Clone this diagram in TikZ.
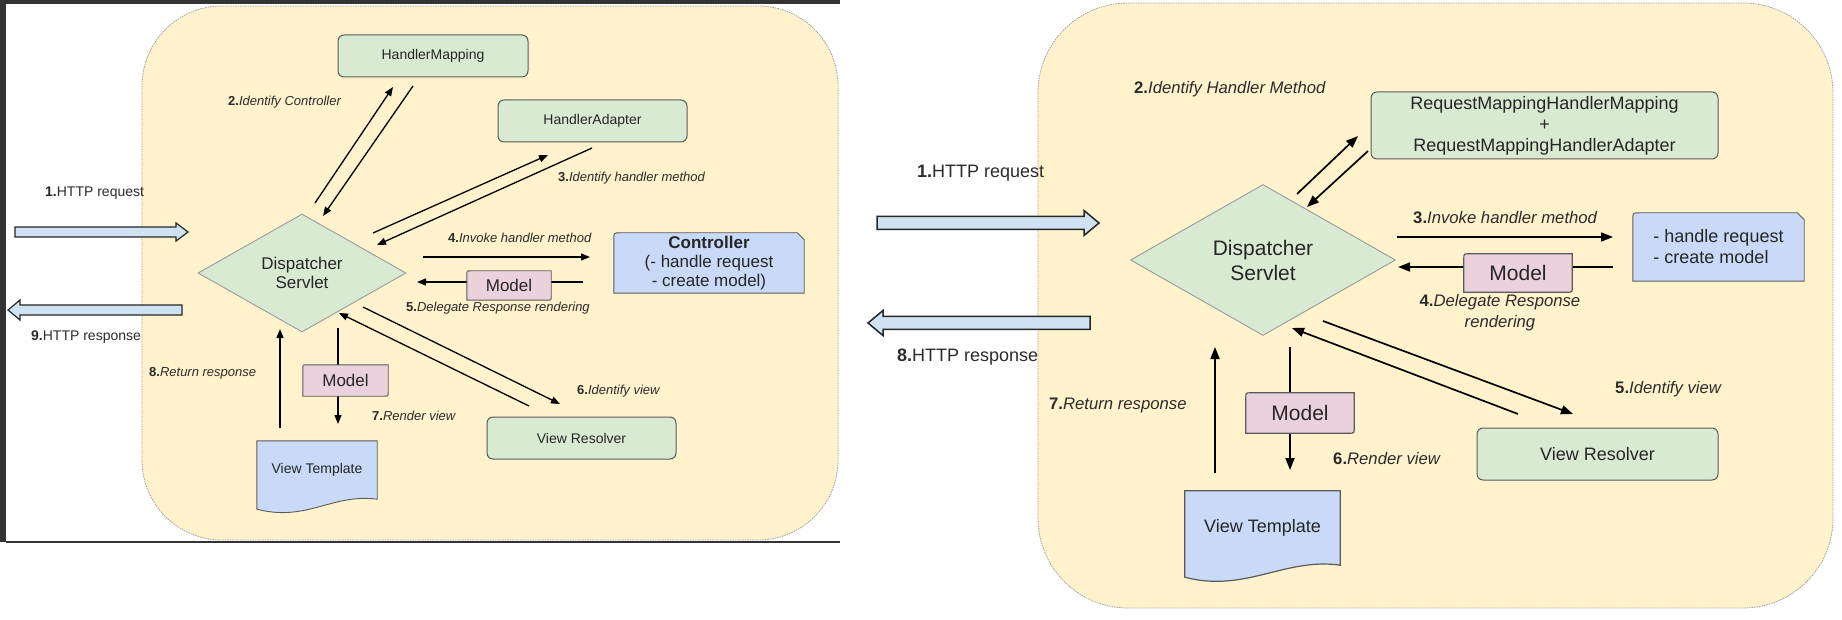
\documentclass[tikz,border=0pt]{standalone}
\usepackage{fontspec}
\setmainfont{Liberation Sans}
\usetikzlibrary{shapes.geometric,arrows.meta,calc}
\pgfdeclarelayer{bg}
\pgfdeclarelayer{lines}
\pgfdeclarelayer{shp}
\pgfsetlayers{bg,lines,shp,main}
\definecolor{panelY}{HTML}{FFF2CC}
\definecolor{panelB}{HTML}{A0A0A0}
\definecolor{grn}{HTML}{D9EAD3}
\definecolor{boxB}{HTML}{5A5A5A}
\definecolor{diaB}{HTML}{9A9A9A}
\definecolor{blu}{HTML}{C9DAF8}
\definecolor{arrF}{HTML}{CFE2F3}
\definecolor{pnk}{HTML}{EAD1DC}
\definecolor{txt}{HTML}{262626}
\definecolor{lbl}{HTML}{2B2B2B}
\definecolor{frameC}{HTML}{333333}
\newcommand\fsLab{\fontsize{13}{15}\selectfont}
\newcommand\fsHttp{\fontsize{14}{16}\selectfont}
\newcommand\fsBox{\fontsize{14}{16}\selectfont}
\newcommand\fsBig{\fontsize{17}{19}\selectfont}
\newcommand\fsLabR{\fontsize{16.7}{21}\selectfont}
\newcommand\fsBoxR{\fontsize{18}{21}\selectfont}
\newcommand\fsBigR{\fontsize{21}{25}\selectfont}
\newcommand\steplab[2]{\textbf{#1}\textit{#2}}
\tikzset{
  every node/.style={text=txt, inner sep=0pt},
  panel/.style={fill=panelY, draw=panelB, dash pattern=on 1.5pt off 1pt, line width=0.8pt},
  greenbox/.style={draw=boxB, fill=grn, rounded corners=6pt, line width=1pt},
  diam/.style={diamond, draw=diaB, fill=grn, line width=0.9pt, align=center},
  cardshape/.style={draw=boxB, fill=blu, line width=0.9pt},
  modelshape/.style={draw=boxB, fill=pnk, line width=0.9pt},
  docshape/.style={draw=boxB, fill=blu, line width=0.9pt},
  blockarr/.style={draw=black!85, fill=arrF, line width=1.2pt, line join=miter},
  connL/.style={draw=black, line width=1.3pt, -{Triangle[length=9pt,width=7pt]}},
  connR/.style={draw=black, line width=1.7pt, -{Triangle[length=12pt,width=9pt]}},
  lab/.style={anchor=west, text=lbl},
}
\begin{document}
\begin{tikzpicture}[x=1pt,y=-1pt]
\useasboundingbox (0,0) rectangle (1842,620);
\begin{pgfonlayer}{bg}
  \fill[white] (0,0) rectangle (1842,620);
  \fill[frameC] (0,0) rectangle (840,4);
  \fill[frameC] (0,0) rectangle (6,542);
  \draw[frameC, line width=1.2pt] (6,542) -- (840,542);
  \draw[panel, rounded corners=80pt] (142,6) rectangle (838,540);
  \draw[panel, rounded corners=90pt] (1038,3) rectangle (1833,608);
\end{pgfonlayer}

% ---------------- LEFT PANEL ----------------
\node[greenbox, font=\fsBox, minimum width=190pt, minimum height=42pt] (hm) at (433,56) {HandlerMapping};
\node[greenbox, font=\fsBox, minimum width=189pt, minimum height=42pt] (ha) at (592.5,121) {HandlerAdapter};
\node[diam, font=\fsBig, minimum width=208pt, minimum height=118pt, shape aspect=1.76] (ds) at (302,273) {Dispatcher\\Servlet};
\node[font=\fsBig, align=center, minimum width=190pt, minimum height=60pt] (ctrl) at (709,263) {\textbf{Controller}\\(- handle request\\- create model)};
\node[font=\fsBig, minimum width=84pt, minimum height=29pt] (m1) at (509,285.5) {Model};
\node[greenbox, font=\fsBox, minimum width=189pt, minimum height=42pt] (vr) at (581.5,438) {View Resolver};
\node[font=\fsBig, minimum width=85pt, minimum height=31pt] (m2) at (345.5,380.5) {Model};
\node[font=\fsBox, minimum width=120pt, minimum height=58pt] (vt) at (317,470) {View Template};

\node[lab, font=\fsHttp] (l1) at (45,193) {\textbf{1.}HTTP request};
\node[lab, font=\fsHttp] (l9) at (31,337) {\textbf{9.}HTTP response};
\node[lab, font=\fsLab] (l2) at (228,102) {\steplab{2.}{Identify Controller}};
\node[lab, font=\fsLab] (l3) at (558,178) {\steplab{3.}{Identify handler method}};
\node[lab, font=\fsLab] (l4) at (448,238) {\steplab{4.}{Invoke handler method}};
\node[lab, font=\fsLab] (l5) at (406,308) {\steplab{5.}{Delegate Response rendering}};
\node[lab, font=\fsLab] (l6) at (577,391) {\steplab{6.}{Identify view}};
\node[lab, font=\fsLab] (l7) at (372,416) {\steplab{7.}{Render view}};
\node[lab, font=\fsLab] (l8) at (149,373) {\steplab{8.}{Return response}};

\coordinate (a2s) at (315,203); \coordinate (a2e) at (393,87);
\coordinate (b2s) at (413,86);  \coordinate (b2e) at (323,216);
\coordinate (a3s) at (373,233); \coordinate (a3e) at (548,155);
\coordinate (b3s) at (592,148); \coordinate (b3e) at (377,245);
\coordinate (a4s) at (423,257); \coordinate (a4e) at (590,257);
\coordinate (a5s) at (583,282); \coordinate (a5e) at (417,282);
\coordinate (a6s) at (363,307); \coordinate (a6e) at (560,404);
\coordinate (b6s) at (529,406); \coordinate (b6e) at (339,313);
\coordinate (a8s) at (280,428); \coordinate (a8e) at (280,329);
\coordinate (a7s) at (338,328); \coordinate (a7e) at (338,424);
\coordinate (q1s) at (15,232);  \coordinate (q1e) at (188,232);
\coordinate (q9s) at (182,310); \coordinate (q9e) at (8,310);

% ---------------- RIGHT PANEL ----------------
\node[greenbox, font=\fsBoxR, align=center, minimum width=347pt, minimum height=67pt] (rm) at (1544.5,125.5) {RequestMappingHandlerMapping\\+\\RequestMappingHandlerAdapter};
\node[diam, font=\fsBigR, minimum width=265pt, minimum height=151pt, shape aspect=1.75] (ds2) at (1263,260) {Dispatcher\\Servlet};
\node[font=\fsBoxR, align=left, minimum width=171pt, minimum height=68pt] (ctrl2) at (1718.5,247) {- handle request\\- create model};
\node[font=\fsBigR, minimum width=108pt, minimum height=38pt] (m3) at (1518,273) {Model};
\node[greenbox, font=\fsBoxR, minimum width=241pt, minimum height=52pt] (vr2) at (1597.5,454) {View Resolver};
\node[font=\fsBigR, minimum width=108pt, minimum height=40pt] (m4) at (1300,413) {Model};
\node[font=\fsBoxR, minimum width=155pt, minimum height=74pt] (vt2) at (1262.5,528) {View Template};

\node[lab, font=\fsBoxR] (r1) at (917,173) {\textbf{1.}HTTP request};
\node[lab, font=\fsBoxR] (r8) at (897,357) {\textbf{8.}HTTP response};
\node[lab, font=\fsLabR] (r2) at (1134,89) {\steplab{2.}{Identify Handler Method}};
\node[lab, font=\fsLabR] (r3) at (1413,218) {\steplab{3.}{Invoke handler method}};
\node[font=\fsLabR, align=center, text=lbl] (r4) at (1500,312.5) {\steplab{4.}{Delegate Response}\\\textit{rendering}};
\node[lab, font=\fsLabR] (r5) at (1615,389) {\steplab{5.}{Identify view}};
\node[lab, font=\fsLabR] (r6) at (1333,459) {\steplab{6.}{Render view}};
\node[lab, font=\fsLabR] (r7) at (1049,405) {\steplab{7.}{Return response}};

\coordinate (c2s) at (1297,194); \coordinate (c2e) at (1358,136);
\coordinate (d2s) at (1368,151); \coordinate (d2e) at (1307,207);
\coordinate (c3s) at (1397,237); \coordinate (c3e) at (1613,237);
\coordinate (c4s) at (1613,267); \coordinate (c4e) at (1398,267);
\coordinate (c5s) at (1323,321); \coordinate (c5e) at (1573,414);
\coordinate (d5s) at (1518,414); \coordinate (d5e) at (1292,328);
\coordinate (c7s) at (1215,473); \coordinate (c7e) at (1215,347);
\coordinate (c6s) at (1290,347); \coordinate (c6e) at (1290,470);
\coordinate (p1s) at (877,223);  \coordinate (p1e) at (1099,223);
\coordinate (p8s) at (1090,323); \coordinate (p8e) at (868,323);

% ---------------- connectors ----------------
\begin{pgfonlayer}{lines}
  \draw[connL] (a2s) -- (a2e);
  \draw[connL] (b2s) -- (b2e);
  \draw[connL] (a3s) -- (a3e);
  \draw[connL] (b3s) -- (b3e);
  \draw[connL] (a4s) -- (a4e);
  \draw[connL] (a5s) -- (a5e);
  \draw[connL] (a6s) -- (a6e);
  \draw[connL] (b6s) -- (b6e);
  \draw[connL] (a8s) -- (a8e);
  \draw[connL] (a7s) -- (a7e);
  \draw[connR] (c2s) -- (c2e);
  \draw[connR] (d2s) -- (d2e);
  \draw[connR] (c3s) -- (c3e);
  \draw[connR] (c4s) -- (c4e);
  \draw[connR] (c5s) -- (c5e);
  \draw[connR] (d5s) -- (d5e);
  \draw[connR] (c7s) -- (c7e);
  \draw[connR] (c6s) -- (c6e);
\end{pgfonlayer}

% block arrows
\draw[blockarr] ($(q1s)+(0,-5)$) -- ($(q1e)+(-12,-5)$) -- ($(q1e)+(-12,-9)$) -- (q1e) -- ($(q1e)+(-12,9)$) -- ($(q1e)+(-12,5)$) -- ($(q1s)+(0,5)$) -- cycle;
\draw[blockarr] ($(q9s)+(0,-5)$) -- ($(q9e)+(12,-5)$) -- ($(q9e)+(12,-10)$) -- (q9e) -- ($(q9e)+(12,10)$) -- ($(q9e)+(12,5)$) -- ($(q9s)+(0,5)$) -- cycle;
\draw[blockarr, line width=1.5pt] ($(p1s)+(0,-6.5)$) -- ($(p1e)+(-15,-6.5)$) -- ($(p1e)+(-15,-12.5)$) -- (p1e) -- ($(p1e)+(-15,12.5)$) -- ($(p1e)+(-15,6.5)$) -- ($(p1s)+(0,6.5)$) -- cycle;
\draw[blockarr, line width=1.5pt] ($(p8s)+(0,-6.5)$) -- ($(p8e)+(15,-6.5)$) -- ($(p8e)+(15,-12.5)$) -- (p8e) -- ($(p8e)+(15,12.5)$) -- ($(p8e)+(15,6.5)$) -- ($(p8s)+(0,6.5)$) -- cycle;

% shapes behind texts
\begin{pgfonlayer}{shp}
  \path[cardshape] ($(ctrl.north west)+(0,6)$) .. controls (ctrl.north west) .. ($(ctrl.north west)+(6,0)$) -- ($(ctrl.north east)+(-7,0)$) -- ($(ctrl.north east)+(0,7)$) -- (ctrl.south east) -- (ctrl.south west) -- cycle;
  \path[cardshape] ($(ctrl2.north west)+(0,7)$) .. controls (ctrl2.north west) .. ($(ctrl2.north west)+(7,0)$) -- ($(ctrl2.north east)+(-7,0)$) -- ($(ctrl2.north east)+(0,7)$) -- (ctrl2.south east) -- (ctrl2.south west) -- cycle;
  \path[modelshape] ($(m1.north west)+(0,4)$) .. controls (m1.north west) .. ($(m1.north west)+(4,0)$) -- (m1.north east) -- ($(m1.south east)+(0,-4)$) .. controls (m1.south east) .. ($(m1.south east)+(-4,0)$) -- (m1.south west) -- cycle;
  \path[modelshape] ($(m2.north west)+(0,4)$) .. controls (m2.north west) .. ($(m2.north west)+(4,0)$) -- (m2.north east) -- ($(m2.south east)+(0,-4)$) .. controls (m2.south east) .. ($(m2.south east)+(-4,0)$) -- (m2.south west) -- cycle;
  \path[modelshape, line width=1.2pt] ($(m3.north west)+(0,5)$) .. controls (m3.north west) .. ($(m3.north west)+(5,0)$) -- (m3.north east) -- ($(m3.south east)+(0,-5)$) .. controls (m3.south east) .. ($(m3.south east)+(-5,0)$) -- (m3.south west) -- cycle;
  \path[modelshape, line width=1.2pt] ($(m4.north west)+(0,5)$) .. controls (m4.north west) .. ($(m4.north west)+(5,0)$) -- (m4.north east) -- ($(m4.south east)+(0,-5)$) .. controls (m4.south east) .. ($(m4.south east)+(-5,0)$) -- (m4.south west) -- cycle;
  \path[docshape] (vt.north west) -- (vt.north east) -- (vt.south east) .. controls ($(vt.south east)+(-45,-6)$) and ($(vt.south west)+(50,23)$) .. ($(vt.south west)+(0,10)$) -- cycle;
  \path[docshape, line width=1.2pt] (vt2.north west) -- (vt2.north east) -- (vt2.south east) .. controls ($(vt2.south east)+(-55,-8)$) and ($(vt2.south west)+(60,28)$) .. ($(vt2.south west)+(0,12)$) -- cycle;
\end{pgfonlayer}
\end{tikzpicture}
\end{document}
